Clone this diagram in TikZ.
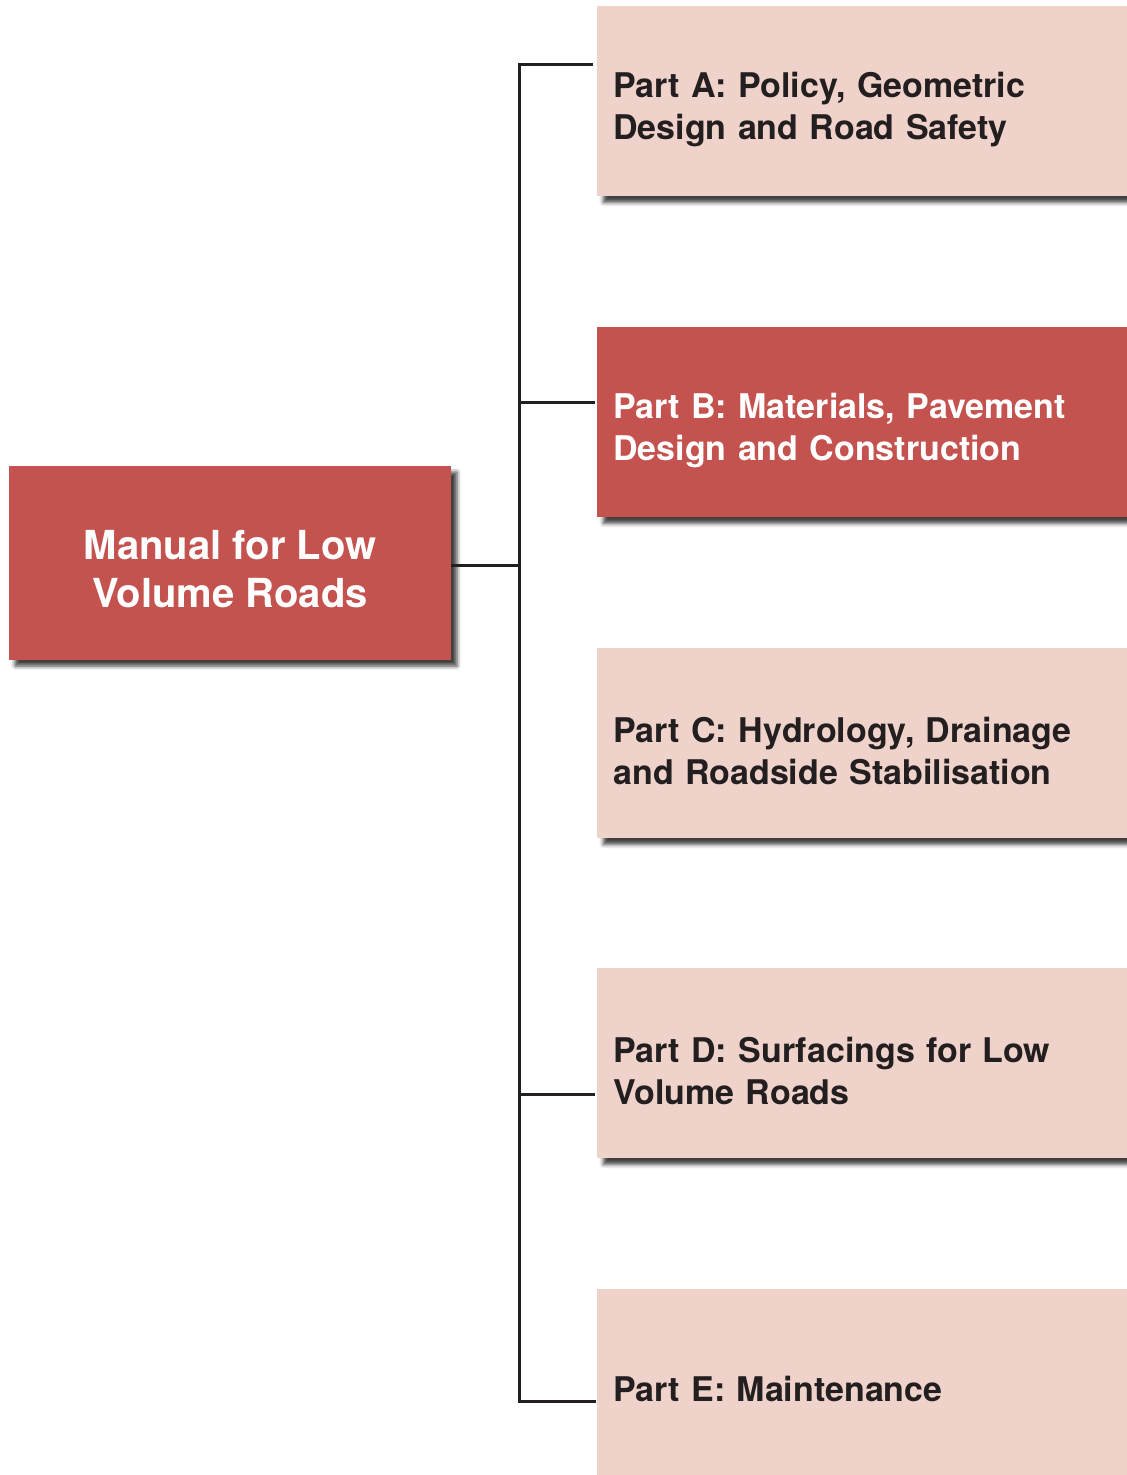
\documentclass[tikz,border=0pt]{standalone}
\usepackage{fontspec}
\setmainfont{TeX Gyre Heros}
\usetikzlibrary{positioning}
\usetikzlibrary{shadows.blur}

\definecolor{brick}{RGB}{196,82,78}
\definecolor{blush}{RGB}{239,211,202}
\definecolor{ink}{RGB}{35,31,32}

\begin{document}
\begin{tikzpicture}[x=0.5pt, y=-0.5pt,
    boxshadow/.style = {blur shadow={shadow xshift=3pt, shadow yshift=-3pt,
        shadow blur radius=2pt, shadow opacity=75}},
    part/.style = {boxshadow, fill=blush, text=ink, anchor=north west,
        minimum height=95pt, text width=250.5pt, inner xsep=8pt,
        align=left, font=\bfseries\fontsize{17}{21}\selectfont,
        execute at begin node={\rule{0pt}{#1}}},
    part/.default = 20.5pt,
    hot/.style = {fill=brick, text=white},
    link/.style = {draw=ink, line width=1.5pt}]
    \useasboundingbox (0,0) rectangle (1127,1475);

    \node[boxshadow, fill=brick, text=white, minimum width=221pt, minimum height=97pt,
        align=center, font=\bfseries\fontsize{20}{24}\selectfont]
        (root) at (230,563) {\rule{0pt}{20.5pt}Manual for Low\\Volume Roads};

    \node[part] (partA) at (597,6) {Part A: Policy, Geometric\\Design and Road Safety};
    \node[part, hot] (partB) at (597,327) {Part B: Materials, Pavement\\Design and Construction};
    \node[part] (partC) at (597,648) {Part C: Hydrology, Drainage\\and Roadside Stabilisation};
    \node[part] (partD) at (597,968) {Part D: Surfacings for Low\\Volume Roads};
    \node[part=17.5pt] (partE) at (597,1289) {Part E: Maintenance};

    % spine and branches
    \coordinate (hub) at (519,565);
    \coordinate (tipA) at (593,65);
    \coordinate (tipB) at (595,403);
    \coordinate (tipD) at (595,1094);
    \coordinate (tipE) at (596,1401);

    \draw[link] (root.east |- hub) -- (hub);
    \draw[link] (tipA) -| (hub) |- (tipE);
    \draw[link] (tipB) -- (tipB -| hub);
    \draw[link] (tipD) -- (tipD -| hub);
\end{tikzpicture}
\end{document}
